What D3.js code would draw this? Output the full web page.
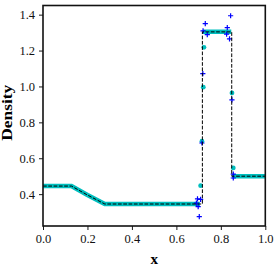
<!DOCTYPE html>
<html>
<head>
<meta charset="utf-8">
<script src="https://cdn.jsdelivr.net/npm/d3@7"></script>
<style>
  body { margin: 0; background: #fff; }
  text { font-family: "Liberation Serif", "DejaVu Serif", serif; }
</style>
</head>
<body>
<div id="chart"></div>
<script>
// exact solution (dashed)
var exactX = [0, 0.128, 0.20, 0.278, 0.717, 0.717, 0.849, 0.849, 1.0];
var exactRho = [0.445, 0.445, 0.395, 0.345, 0.345, 1.304, 1.304, 0.5, 0.5];

// cyan scheme: smooth parts (null = break) and the isolated points in the jumps
var cyanBandX = [0, 0.128, 0.20, 0.278, 0.706, null, 0.72, 0.847, null, 0.851, 1.0];
var cyanBandRho = [0.445, 0.445, 0.395, 0.345, 0.345, null, 1.305, 1.305, null, 0.5, 0.5];
var cyanDotX = [0.709, 0.715, 0.721, 0.724, 0.850, 0.856];
var cyanDotRho = [0.447, 0.695, 0.996, 1.218, 0.964, 0.546];

// blue scheme: points off the band
var blueX = [0.844, 0.730, 0.829, 0.739, 0.826, 0.839, 0.720, 0.719, 0.850, 0.715,
  0.695, 0.709, 0.698, 0.703, 0.690, 0.856, 0.856];
var blueRho = [1.394, 1.350, 1.328, 1.289, 1.291, 1.265, 1.310, 1.071, 0.925, 0.685,
  0.374, 0.371, 0.331, 0.275, 0.350, 0.512, 0.490];

var xTicks = [0, 0.2, 0.4, 0.6, 0.8, 1.0];
var yTicks = [0.4, 0.6, 0.8, 1.0, 1.2, 1.4];

var svgWidth = 274;
var svgHeight = 267;
var margin = { top: 5.5, right: 8.7, bottom: 41, left: 43 };
var width = svgWidth - margin.left - margin.right;
var height = svgHeight - margin.top - margin.bottom;

var svg = d3.select("#chart")
  .append("svg")
  .attr("width", svgWidth)
  .attr("height", svgHeight);

var chartGroup = svg.append("g")
  .attr("transform", `translate(${margin.left}, ${margin.top})`);

var xScale = d3.scaleLinear().domain([0, 1]).range([0, width]);
var yScale = d3.scaleLinear().domain([0.2225, 1.451]).range([height, 0]);

function zip(xs, ys) {
  return xs.map((x, i) => (x === null ? null : [x, ys[i]]));
}

var line = d3.line()
  .defined(d => d !== null)
  .x(d => xScale(d[0]))
  .y(d => yScale(d[1]));

// cyan band
chartGroup.append("path")
  .datum(zip(cyanBandX, cyanBandRho))
  .attr("d", line)
  .attr("fill", "none")
  .attr("stroke", "#00bfbf")
  .attr("stroke-width", 4.6);

// cyan dots
chartGroup.selectAll(".cdot")
  .data(zip(cyanDotX, cyanDotRho))
  .enter()
  .append("circle")
  .attr("class", "cdot")
  .attr("cx", d => xScale(d[0]))
  .attr("cy", d => yScale(d[1]))
  .attr("r", 2.4)
  .attr("fill", "#00bfbf");

// blue pluses
chartGroup.selectAll(".bplus")
  .data(zip(blueX, blueRho))
  .enter()
  .append("path")
  .attr("class", "bplus")
  .attr("transform", d => `translate(${xScale(d[0])}, ${yScale(d[1])})`)
  .attr("d", "M-2.6,0H2.6M0,-2.6V2.6")
  .attr("stroke", "#0000ff")
  .attr("stroke-width", 1.2);

// exact solution
chartGroup.append("path")
  .datum(zip(exactX, exactRho))
  .attr("d", line)
  .attr("fill", "none")
  .attr("stroke", "#000")
  .attr("stroke-width", 1)
  .attr("stroke-dasharray", "3.7,1.6");

// axes
var bottomAxis = d3.axisBottom(xScale)
  .tickValues(xTicks)
  .tickFormat(d3.format(".1f"))
  .tickSizeOuter(0)
  .tickSize(4)
  .tickPadding(4);
var leftAxis = d3.axisLeft(yScale)
  .tickValues(yTicks)
  .tickFormat(d3.format(".1f"))
  .tickSizeOuter(0)
  .tickSize(4)
  .tickPadding(4);

var xAxis = chartGroup.append("g")
  .attr("transform", `translate(0, ${height})`)
  .call(bottomAxis);
var yAxis = chartGroup.append("g").call(leftAxis);

[xAxis, yAxis].forEach(function (ax) {
  ax.select(".domain").remove();
  ax.selectAll("line").attr("stroke", "#000").attr("stroke-width", 0.9);
  ax.selectAll("text")
    .attr("font-size", "12.5px")
    .attr("font-family", "Liberation Serif, serif")
    .attr("fill", "#111");
});

// frame
chartGroup.append("rect")
  .attr("width", width)
  .attr("height", height)
  .attr("fill", "none")
  .attr("stroke", "#111")
  .attr("stroke-width", 1.6);

// labels
chartGroup.append("text")
  .attr("x", width / 2)
  .attr("y", height + 38)
  .attr("text-anchor", "middle")
  .attr("font-size", "15px")
  .attr("font-weight", "bold")
  .text("x");

chartGroup.append("text")
  .attr("transform", "rotate(-90)")
  .attr("x", -height / 2 + 3)
  .attr("y", -margin.left + 12)
  .attr("text-anchor", "middle")
  .attr("font-size", "15px")
  .attr("font-weight", "bold")
  .attr("textLength", 56)
  .attr("lengthAdjust", "spacingAndGlyphs")
  .text("Density");
</script>
</body>
</html>
